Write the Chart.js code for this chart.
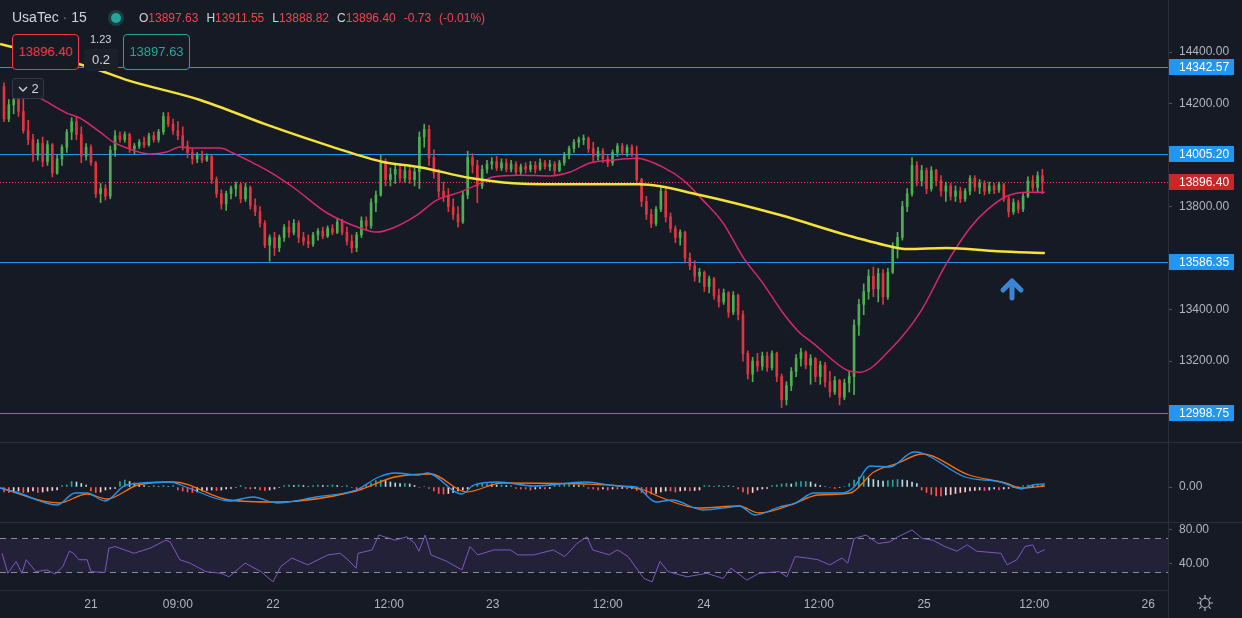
<!DOCTYPE html>
<html>
<head>
<meta charset="utf-8">
<script src="https://cdn.jsdelivr.net/npm/chart.js@4.4.1/dist/chart.umd.min.js"></script>
<style>
  body { margin: 0; background: #161a25; width: 1242px; height: 618px; overflow: hidden; font-family: "Liberation Sans", Arial, sans-serif; }
  .pane { position: absolute; left: 0; width: 1242px; }
  .sep { position: absolute; left: 0; width: 1242px; height: 1px; background: #2a2e39; }
  .vsep { position: absolute; left: 1168px; top: 0; width: 1px; height: 618px; background: #2a2e39; }
  .ov { position: absolute; white-space: nowrap; }
  .box { position: absolute; top: 34px; height: 34px; width: 65px; border-radius: 4px; background: #161a25; font-size: 13px; line-height: 34px; text-align: center; }
  .g { color: #d1d4dc; }
  .r { color: #f0444f; margin-right: 8px; }
</style>
</head>
<body>
<div class="pane" style="top:0;height:442px"><canvas id="main"></canvas></div>
<div class="sep" style="top:442px"></div>
<div class="pane" style="top:443px;height:79px"><canvas id="macd"></canvas></div>
<div class="sep" style="top:522px"></div>
<div class="pane" style="top:523px;height:95px"><canvas id="rsi"></canvas></div>
<div class="vsep"></div>

<div class="ov" style="left:12px;top:9px;font-size:14px;color:#d1d4dc">UsaTec <span style="color:#787b86">·</span> 15</div>
<div class="ov" style="left:111px;top:13px;width:10px;height:10px;border-radius:5px;background:#26a69a;box-shadow:0 0 0 3px rgba(38,166,154,0.25)"></div>
<div class="ov" style="left:139px;top:11px;font-size:12px">
  <span class="g">O</span><span class="r">13897.63</span><span class="g">H</span><span class="r">13911.55</span><span class="g">L</span><span class="r">13888.82</span><span class="g">C</span><span class="r">13896.40</span><span class="r">-0.73</span><span class="r">(-0.01%)</span>
</div>
<div class="box" style="left:12px;border:1px solid #f23645;color:#f23645">13896.40</div>
<div class="ov" style="left:90px;top:33px;font-size:11px;color:#d1d4dc">1.23</div>
<div class="ov" style="left:84px;top:49px;width:34px;height:22px;border-radius:3px;background:#1c202b;font-size:13px;line-height:22px;text-align:center;color:#d1d4dc">0.2</div>
<div class="box" style="left:123px;border:1px solid #26a69a;color:#26a69a">13897.63</div>
<div class="ov" style="left:12px;top:78px;width:30px;height:19px;border:1px solid #363a45;border-radius:3px;background:#1a1e29;font-size:13px;line-height:19px;color:#d1d4dc">
  <svg width="10" height="8" style="margin-left:5px" viewBox="0 0 10 8"><path d="M1 2 L5 6 L9 2" stroke="#d1d4dc" stroke-width="1.4" fill="none"/></svg> 2
</div>
<svg class="ov" style="left:1196px;top:594px" width="18" height="18" viewBox="0 0 18 18">
  <circle cx="9" cy="9" r="4.5" stroke="#b2b5be" stroke-width="1.2" fill="none"/>
  <path d="M9 1v3M9 14v3M1 9h3M14 9h3M3.3 3.3l2 2M12.7 12.7l2 2M3.3 14.7l2-2M12.7 5.3l2-2" stroke="#b2b5be" stroke-width="1.2"/>
</svg>

<script>
// 30-minute candles, index 0 = first visible bar: [open, high, low, close]
const ohlc = [
  [14265,14280,14130,14140],[14140,14215,14130,14195],[14195,14230,14160,14215],[14215,14230,14150,14170],
  [14170,14225,14085,14095],[14095,14135,14040,14060],[14060,14080,13975,14000],[14000,14060,13980,14045],
  [14045,14070,13955,13975],[13975,14055,13960,14040],[14040,14045,13915,13930],[13930,14000,13925,13985],
  [13985,14040,13960,14030],[14030,14100,14010,14090],[14090,14145,14060,14130],[14130,14150,14060,14080],
  [14080,14110,13970,13995],[13995,14045,13980,14030],[14030,14040,13960,13970],[13970,13975,13835,13850],
  [13850,13890,13815,13870],[13870,13885,13825,13840],[13840,14035,13830,14020],[14020,14095,13995,14075],
  [14075,14090,14050,14060],[14060,14090,14050,14080],[14080,14085,14010,14025],[14025,14045,14005,14035],
  [14035,14060,14025,14050],[14050,14070,14030,14040],[14040,14085,14035,14075],[14075,14090,14050,14060],
  [14060,14100,14050,14090],[14090,14165,14080,14150],[14150,14165,14110,14120],[14120,14140,14080,14095],
  [14095,14130,14060,14075],[14075,14110,14020,14035],[14035,14055,13990,14010],[14010,14025,13965,13985],
  [13985,14010,13970,14000],[14000,14015,13970,13980],[13980,14005,13975,13995],[13995,14000,13890,13905],
  [13905,13915,13835,13850],[13850,13865,13790,13810],[13810,13860,13785,13850],[13850,13880,13830,13870],
  [13870,13895,13840,13885],[13885,13890,13815,13830],[13830,13890,13820,13875],[13875,13880,13790,13805],
  [13805,13830,13765,13780],[13780,13800,13720,13735],[13735,13745,13640,13650],[13650,13690,13588,13680],
  [13680,13700,13610,13640],[13640,13690,13625,13680],[13680,13730,13665,13720],[13720,13745,13680,13700],
  [13700,13750,13690,13735],[13735,13745,13660,13680],[13680,13700,13650,13665],[13665,13690,13640,13655],
  [13655,13700,13645,13690],[13690,13715,13670,13705],[13705,13720,13675,13685],[13685,13725,13680,13715],
  [13715,13730,13690,13700],[13700,13755,13695,13740],[13740,13750,13690,13700],[13700,13720,13650,13665],
  [13665,13690,13620,13640],[13640,13700,13625,13690],[13690,13760,13680,13745],[13745,13760,13710,13725],
  [13725,13830,13715,13815],[13815,13860,13780,13845],[13845,14000,13840,13970],[13970,13985,13880,13905],
  [13905,13950,13880,13925],[13925,13960,13890,13945],[13945,13965,13895,13910],[13910,13955,13895,13940],
  [13940,13960,13890,13905],[13905,13950,13880,13935],[13935,14090,13870,14070],[14070,14120,14030,14100],
  [14100,14115,13960,13990],[13990,14020,13910,13930],[13930,13945,13835,13860],[13860,13895,13820,13840],
  [13840,13870,13780,13800],[13800,13830,13750,13770],[13770,13800,13720,13740],[13740,13860,13735,13845],
  [13845,14015,13830,13990],[13990,14005,13930,13960],[13960,13980,13815,13880],[13880,13960,13870,13945],
  [13945,13980,13930,13965],[13965,13990,13945,13975],[13975,13995,13940,13950],[13950,13985,13940,13970],
  [13970,13985,13935,13945],[13945,13980,13935,13965],[13965,13975,13920,13935],[13935,13965,13925,13955],
  [13955,13970,13930,13945],[13945,13975,13935,13960],[13960,13975,13930,13945],[13945,13985,13940,13970],
  [13970,13980,13945,13955],[13955,13980,13940,13965],[13965,13975,13925,13940],[13940,13980,13935,13970],
  [13970,14010,13960,14000],[14000,14035,13985,14025],[14025,14060,14010,14050],[14050,14070,14030,14060],
  [14060,14078,14040,14065],[14065,14070,14010,14025],[14025,14050,13975,13995],[13995,14030,13980,14015],
  [14015,14025,13970,13985],[13985,14000,13955,13970],[13970,14020,13960,14010],[14010,14045,13995,14035],
  [14035,14045,14000,14010],[14010,14040,13995,14030],[14030,14040,13995,14005],[14005,14035,13890,13905],
  [13905,13910,13800,13820],[13820,13840,13750,13770],[13770,13790,13718,13735],[13735,13800,13725,13790],
  [13790,13880,13780,13860],[13860,13875,13740,13760],[13760,13775,13700,13715],[13715,13725,13660,13680],
  [13680,13710,13650,13700],[13700,13705,13580,13600],[13600,13620,13555,13570],[13570,13590,13510,13530],
  [13530,13560,13505,13545],[13545,13550,13470,13490],[13490,13530,13465,13520],[13520,13525,13440,13455],
  [13455,13480,13410,13430],[13430,13480,13420,13465],[13465,13470,13370,13390],[13390,13470,13380,13455],
  [13455,13460,13360,13380],[13380,13395,13200,13230],[13230,13240,13130,13150],[13150,13215,13120,13200],
  [13200,13230,13160,13180],[13180,13235,13165,13220],[13220,13235,13160,13175],[13175,13240,13165,13230],
  [13230,13235,13120,13140],[13140,13150,13020,13050],[13050,13120,13030,13105],[13105,13175,13085,13160],
  [13160,13225,13140,13210],[13210,13250,13180,13235],[13235,13240,13170,13185],[13185,13225,13110,13210],
  [13210,13215,13120,13140],[13140,13200,13110,13185],[13185,13195,13100,13120],[13120,13160,13060,13080],
  [13080,13140,13070,13125],[13125,13130,13030,13060],[13060,13130,13050,13115],[13115,13160,13080,13140],
  [13140,13360,13070,13340],[13340,13440,13300,13420],[13420,13500,13380,13470],[13470,13555,13440,13530],
  [13530,13565,13450,13480],[13480,13560,13430,13540],[13540,13555,13420,13450],[13450,13560,13440,13545],
  [13545,13660,13540,13640],[13640,13700,13600,13680],[13680,13820,13670,13800],[13800,13870,13780,13850],
  [13850,13990,13840,13960],[13960,13975,13880,13900],[13900,13960,13880,13940],[13940,13950,13850,13870],
  [13870,13955,13860,13940],[13940,13945,13880,13900],[13900,13920,13840,13860],[13860,13895,13820,13880],
  [13880,13890,13825,13840],[13840,13880,13820,13860],[13860,13875,13815,13830],[13830,13870,13820,13860],
  [13860,13920,13845,13910],[13910,13920,13860,13875],[13875,13905,13850,13890],[13890,13900,13845,13860],
  [13860,13895,13850,13880],[13880,13890,13850,13865],[13865,13895,13855,13885],[13885,13890,13820,13830],
  [13830,13840,13760,13780],[13780,13830,13770,13815],[13815,13825,13775,13790],[13790,13850,13780,13840],
  [13840,13915,13835,13900],[13900,13920,13860,13875],[13875,13935,13855,13920],[13920,13945,13850,13896.40]
];

// moving averages (bar index, price)
const maSlowX = [-0.8,18.4,25.5,40.6,54.5,68.1,78.5,86.1,96.5,105.4,116.6,131.7,144.1,160.7,174.5,184.1,187,195.2,205.6,215.5];
const maSlowV = [14431,14338,14291,14214,14117,14031,13973,13953,13911,13891,13887,13887,13845,13767,13689,13643,13635,13639,13627,13620];
const maFastX = [2.3,4.8,7.5,13,15.7,19.9,22.6,26.7,30.2,33.7,36.4,39.1,44.7,47.4,51.6,55.1,59.8,66.9,73.7,77.2,80.5,85.5,89.6,94.4,97.9,101.2,106.8,113,117.2,121.3,126.1,131.1,136.4,140.6,144.7,148.9,153,157.1,161.3,164.8,167.5,174.5,177.2,184,189.6,195.2,200,203.5,207.7,211.8,215.5];
const maFastV = [14260,14245,14221,14163,14144,14089,14051,14019,14004,14012,14031,14027,14027,14008,13969,13934,13876,13775,13717,13701,13717,13767,13825,13856,13884,13915,13922,13919,13934,13969,13981,13988,13953,13903,13825,13736,13604,13503,13387,13309,13270,13165,13157,13255,13387,13581,13717,13786,13841,13856,13856];

// horizontal levels and last price
const levels = [14342.57, 14005.20, 13586.35, 12998.75];
const lastPrice = 13896.40;
const arrowAt = [208.7, 13480];

// MACD pane
const macdHist = [-10,-11,-10,-8,-11,-10,-8,-11,-10,-8,-7,-6,3,4,11,10,7,4,-8,-11,-10,-6,-4,-3,11,14,11,8,7,3,1,3,1,3,1,3,
  -6,-8,-10,-11,-10,-8,-7,-6,-7,-6,-4,-3,-1,3,-3,-4,-3,-6,-7,-6,-4,-1,3,4,3,4,3,1,3,4,3,3,4,3,1,3,-1,-4,-6,
  3,8,13,14,13,10,8,7,7,6,3,-1,1,-3,-8,-13,-14,-13,-11,-8,-6,-4,3,6,7,7,6,4,4,3,3,-3,-4,-4,-6,-4,-3,-4,-3,
  3,4,6,6,4,3,3,-3,-4,-6,-4,-6,-4,-4,-3,-4,-3,-7,-11,-14,-14,-13,-10,-8,-8,-10,-8,-7,-8,-7,-6,3,3,1,3,1,3,
  1,-4,-10,-14,-11,-6,-4,-3,3,4,6,7,6,10,11,11,10,6,3,1,-1,-3,-1,1,7,14,20,22,18,15,13,12,13,14,15,14,13,10,7,
  -6,-11,-15,-18,-18,-16,-15,-13,-11,-10,-8,-7,-6,-7,-6,-4,-6,-4,-3,-1,1,3,4,3,4,3];
const macdX = [-0.8,2.5,11,14.7,17.2,20.9,25.3,34.4,37.7,46.6,51.6,56.5,64.6,72.9,77.6,80.9,85.9,87.6,94.8,97.3,102.3,109.7,120.3,127.5,130.9,135,138.3,144.7,150.5,152.2,155.5,160.5,163.8,167.7,173.5,176,179.3,183.4,188.4,190.1,199,206.4,210.6,213,215.5];
const macdV = [-2,-10,-36,-12,-12,-28,4,10,0,-28,-20,-32,-20,-6,20,28,24,28,-14,4,10,2,10,2,0,-30,-26,-46,-40,-38,-56,-40,-32,-12,-12,0,42,40,70,68,20,10,-4,4,6];
const signalX = [-0.8,11.4,17.2,21.3,27.7,35.2,46.6,56.5,72.9,80.9,88.4,95.7,103.1,120.3,127.5,132.5,135.8,143.9,152.2,156.3,162.9,168.5,175.2,180.1,185.1,190.1,199.8,207.3,210.6,215.5];
const signalV = [-2,-32,-14,-24,4,10,-26,-30,-8,20,26,-10,8,6,2,-6,-20,-42,-38,-52,-36,-16,-12,30,48,66,24,8,-2,2];

// RSI pane
const rsiX = [-0.4,0.8,2.5,3.7,4.6,6.6,8.9,10.6,12.2,13.5,14.3,15.5,17.2,18,20.9,21.7,23,26.9,30.2,33.5,34.4,36.4,38.5,41.8,44.9,46.6,49.9,53.2,55.7,57.3,59.6,62.9,67.1,69.6,71.2,72.9,73.3,76.2,77.6,81,83.4,85.1,85.9,87.2,88.4,91.7,94.8,96.5,98.1,101.4,104.8,106.4,109.7,113.7,116.1,118.6,120.7,121.9,125.3,126.9,127.5,129.2,132.5,134.2,135.8,137.5,141.4,145.5,148.9,150.5,153.8,156.3,160.5,162.1,163.8,166.3,168.5,171,173.5,174.7,176,178.5,181,183.4,185.1,188,190.1,192.3,194.8,197.3,199.4,201.4,206.4,207.7,209.7,211.4,213,213.9,215.5];
const rsiV = [52.6,29,43,29,45,31,33,28,37,55,53,45,45,31,30,58.5,60.5,52.6,58.5,68,66,45,41,31,29,25,41,31,19,37,47,39,50.7,52.6,45,35,52.6,56.5,74,68,72,64,55,74,50.7,43,33,60.5,50.7,56.5,56.5,50.7,50.7,56.5,48.7,64,72,56.5,50.7,56.5,55,48.7,23,19,43,31,25,29,23,35,21,29,31,25,48.7,47,45,39,47,41,70,74,64,66,72,80,70,68,60.5,55,62.5,55,52.6,39,45,60.5,62.5,52.6,57];

// time axis
const xTickPos = [18,36,55.7,79.7,101.2,125,144.9,168.7,190.5,213.3,236.9];
const xTickLabels = ['21','09:00','22','12:00','23','12:00','24','12:00','25','12:00','26'];
const xMin = -0.83, xMax = 241;

const UP = '#4caf50', DOWN = '#e0343f';
const AXIS_W = 74;
const FONT = { family: '"Liberation Sans", Arial, sans-serif', size: 12 };

const pts = (xs, vs) => xs.map((x, i) => ({ x: x, y: vs[i] })).filter(p => p.y !== undefined);

function xAxis(show) {
    return {
        type: 'linear', min: xMin, max: xMax, offset: false, display: show,
        grid: { display: false, drawTicks: false },
        border: { display: show, color: '#2a2e39' },
        afterBuildTicks: (s) => { s.ticks = xTickPos.map((v) => ({ value: v })); },
        afterFit: (s) => {
            if (show) s.height = 28;
            s.paddingLeft = 0; s.paddingRight = 0;
        },
        ticks: {
            color: '#b2b5be', font: FONT, padding: 7, autoSkip: false, maxRotation: 0,
            callback: (v, i) => xTickLabels[i],
        },
    };
}

function yAxis(min, max, ticks) {
    return {
        position: 'right', min: min, max: max,
        afterFit: (s) => {
            s.width = AXIS_W;
            s.paddingTop = 0; s.paddingBottom = 0; // no extra room for edge labels
        },
        afterBuildTicks: (s) => { s.ticks = ticks.map((v) => ({ value: v })); },
        grid: { drawOnChartArea: false, drawTicks: true, tickLength: 4, color: '#50535e' },
        border: { display: true, color: '#2a2e39' },
        ticks: { color: '#b2b5be', font: FONT, padding: 7, callback: (v) => v.toFixed(2) },
    };
}

function labelBox(ctx, a, y, text, bg) {
    ctx.fillStyle = bg;
    ctx.fillRect(a.right + 1, Math.round(y) - 8, 65, 16);
    ctx.fillStyle = '#ffffff';
    ctx.font = '12px "Liberation Sans", Arial, sans-serif';
    ctx.textBaseline = 'middle';
    ctx.textAlign = 'left';
    ctx.fillText(text, a.right + 11, Math.round(y) + 0.5);
}

const levelPlugin = {
    id: 'levels',
    beforeDatasetsDraw(chart) {
        const { ctx, chartArea: a, scales: { y } } = chart;
        ctx.save();
        ctx.strokeStyle = '#2196f3';
        ctx.lineWidth = 1;
        levels.forEach((v) => {
            const py = Math.round(y.getPixelForValue(v)) + 0.5;
            ctx.beginPath(); ctx.moveTo(a.left, py); ctx.lineTo(a.right, py); ctx.stroke();
        });
        const pp = Math.round(y.getPixelForValue(lastPrice)) + 0.5;
        ctx.strokeStyle = '#f23645';
        ctx.setLineDash([1, 2]);
        ctx.beginPath(); ctx.moveTo(a.left, pp); ctx.lineTo(a.right, pp); ctx.stroke();
        ctx.restore();
    },
    afterDraw(chart) {
        const { ctx, chartArea: a, scales: { x, y } } = chart;
        ctx.save();
        levels.forEach((v) => labelBox(ctx, a, y.getPixelForValue(v), v.toFixed(2), '#2196f3'));
        labelBox(ctx, a, y.getPixelForValue(lastPrice), lastPrice.toFixed(2), '#c62828');
        // blue arrow annotation
        const ax = Math.round(x.getPixelForValue(arrowAt[0]));
        const ay = Math.round(y.getPixelForValue(arrowAt[1]));
        ctx.strokeStyle = '#3a86d4';
        ctx.lineWidth = 5;
        ctx.lineCap = 'round';
        ctx.lineJoin = 'round';
        ctx.beginPath();
        ctx.moveTo(ax - 9, ay + 1); ctx.lineTo(ax, ay - 8); ctx.lineTo(ax + 9, ay + 1);
        ctx.moveTo(ax, ay - 7); ctx.lineTo(ax, ay + 9);
        ctx.stroke();
        ctx.restore();
    },
};

const rsiBand = {
    id: 'rsiBand',
    beforeDatasetsDraw(chart) {
        const { ctx, chartArea: a, scales: { y } } = chart;
        const y70 = Math.round(y.getPixelForValue(70)) + 0.5;
        const y30 = Math.round(y.getPixelForValue(30)) + 0.5;
        ctx.save();
        ctx.fillStyle = 'rgba(126, 87, 194, 0.12)';
        ctx.fillRect(a.left, y70, a.right - a.left, y30 - y70);
        ctx.strokeStyle = '#8a8d96';
        ctx.lineWidth = 1;
        ctx.setLineDash([6, 5]);
        [y70, y30].forEach((py) => {
            ctx.beginPath(); ctx.moveTo(a.left, py); ctx.lineTo(a.right, py); ctx.stroke();
        });
        ctx.restore();
    },
};

const up = ohlc.map((c) => c[3] >= c[0]);
const wicks = ohlc.map((c, i) => ({ x: i, y: [c[2], c[1]] }));
const bodies = ohlc.map((c, i) => ({ x: i, y: [Math.min(c[0], c[3]), Math.max(c[0], c[3])] }));
const candleColor = up.map((u) => (u ? UP : DOWN));

const base = {
    responsive: true, maintainAspectRatio: false, animation: false,
    layout: { padding: 0 },
    plugins: { legend: { display: false }, tooltip: { enabled: false } },
};

new Chart(document.getElementById('main').getContext('2d'), {
    type: 'bar',
    data: {
        datasets: [
            { type: 'line', data: pts(maSlowX, maSlowV), borderColor: '#f5e23b', borderWidth: 2.5, pointRadius: 0, cubicInterpolationMode: 'monotone', order: 1 },
            { type: 'line', data: pts(maFastX, maFastV), borderColor: '#d6286e', borderWidth: 1.5, pointRadius: 0, cubicInterpolationMode: 'monotone', order: 2 },
            { data: bodies, backgroundColor: candleColor, barThickness: 2, minBarLength: 1, grouped: false, order: 3 },
            { data: wicks, backgroundColor: candleColor, barThickness: 1, grouped: false, order: 4 },
        ],
    },
    options: {
        ...base,
        scales: { x: xAxis(false), y: yAxis(12886, 14602, [14400, 14200, 13800, 13400, 13200]) },
    },
    plugins: [levelPlugin],
});

const histColor = macdHist.map((v, i) => {
    const prev = i > 0 ? macdHist[i - 1] : v;
    if (v >= 0) return v >= prev ? '#26a69a' : '#b2dfdb';
    return v > prev ? '#ffcdd2' : '#ff5252';
});

new Chart(document.getElementById('macd').getContext('2d'), {
    type: 'bar',
    data: {
        datasets: [
            { type: 'line', data: pts(macdX, macdV), borderColor: '#2196f3', borderWidth: 1.3, pointRadius: 0, cubicInterpolationMode: 'monotone', order: 1 },
            { type: 'line', data: pts(signalX, signalV), borderColor: '#ff6d00', borderWidth: 1.3, pointRadius: 0, cubicInterpolationMode: 'monotone', order: 2 },
            { data: macdHist.map((v, i) => ({ x: i, y: v })), backgroundColor: histColor, barThickness: 1, grouped: false, order: 3 },
        ],
    },
    options: {
        ...base,
        scales: { x: xAxis(false), y: yAxis(-70, 88, [0]) },
    },
});

new Chart(document.getElementById('rsi').getContext('2d'), {
    type: 'line',
    data: {
        datasets: [
            { data: pts(rsiX, rsiV), borderColor: '#7e57c2', borderWidth: 1, pointRadius: 0, tension: 0 },
        ],
    },
    options: {
        ...base,
        scales: { x: xAxis(true), y: yAxis(9.4, 88.2, [80, 40]) },
    },
    plugins: [rsiBand],
});
</script>
</body>
</html>
